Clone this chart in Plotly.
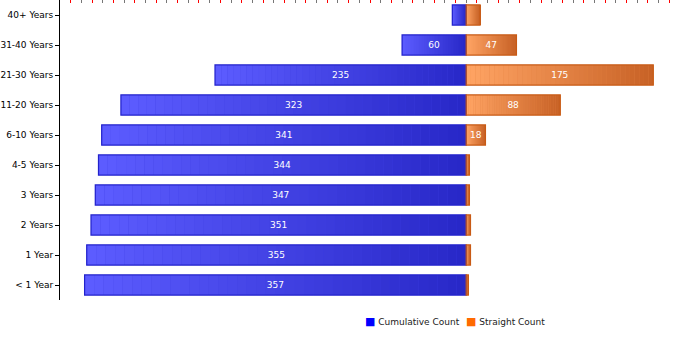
import plotly.graph_objects as go

categories = ["40+ Years", "31-40 Years", "21-30 Years", "11-20 Years", "6-10 Years",
              "4-5 Years", "3 Years", "2 Years", "1 Year", "< 1 Year"]
cumulative = [13, 60, 235, 323, 341, 344, 347, 351, 355, 357]
straight = [13, 47, 175, 88, 18, 3, 3, 4, 4, 2]
series_names = ["Cumulative Count", "Straight Count"]

N = 40
BAR_W = 0.67
FONT = "DejaVu Sans"


def lerp(c1, c2, t):
    return "rgb(%d,%d,%d)" % tuple(round(a + (b - a) * t) for a, b in zip(c1, c2))


blue_light, blue_dark = (92, 92, 255), (40, 40, 200)
orange_light, orange_dark = (255, 164, 100), (200, 98, 38)

fig = go.Figure()

# base solid bars
fig.add_trace(go.Bar(y=categories, x=[-v for v in cumulative], orientation="h", width=BAR_W,
                     marker=dict(color=lerp(blue_light, blue_dark, 0.5), line=dict(width=0)),
                     showlegend=False, hoverinfo="skip"))
fig.add_trace(go.Bar(y=categories, x=straight, orientation="h", width=BAR_W,
                     marker=dict(color=lerp(orange_light, orange_dark, 0.5), line=dict(width=0)),
                     showlegend=False, hoverinfo="skip"))

# gradient segments
for k in range(N):
    t = k / (N - 1)
    fig.add_trace(go.Bar(y=categories, x=[v / N for v in cumulative],
                         base=[-v * (1 - k / N) for v in cumulative], orientation="h", width=BAR_W,
                         marker=dict(color=lerp(blue_light, blue_dark, t), line=dict(width=0)),
                         showlegend=False, hoverinfo="skip"))
    fig.add_trace(go.Bar(y=categories, x=[v / N for v in straight],
                         base=[v * k / N for v in straight], orientation="h", width=BAR_W,
                         marker=dict(color=lerp(orange_light, orange_dark, t), line=dict(width=0)),
                         showlegend=False, hoverinfo="skip"))

# outlines + labels
fig.add_trace(go.Bar(y=categories, x=[-v for v in cumulative], orientation="h", width=BAR_W,
                     name=series_names[0],
                     marker=dict(color="rgba(0,0,0,0)", line=dict(color="#2222cc", width=1.2)),
                     text=[str(v) if v >= 30 else "" for v in cumulative],
                     textposition="inside", insidetextanchor="middle",
                     textfont=dict(color="white", size=9, family=FONT),
                     showlegend=False))
fig.add_trace(go.Bar(y=categories, x=straight, orientation="h", width=BAR_W,
                     name=series_names[1],
                     marker=dict(color="rgba(0,0,0,0)", line=dict(color="#c85a14", width=1.2)),
                     text=[str(v) if v >= 15 else "" for v in straight],
                     textposition="inside", insidetextanchor="middle",
                     textfont=dict(color="white", size=9, family=FONT),
                     showlegend=False))

fig.update_layout(
    width=700, height=350,
    margin=dict(l=60, r=20, t=0, b=50),
    barmode="overlay",
    plot_bgcolor="white", paper_bgcolor="white",
    font=dict(family=FONT, size=9, color="black"),
    showlegend=False,
    uniformtext=dict(minsize=9, mode="show"),
    xaxis=dict(side="top", range=[-380, 200], showline=True, linecolor="black", linewidth=1,
               ticks="inside", ticklen=3, tickcolor="#777777", tick0=0, dtick=20,
               minor=dict(ticks="inside", ticklen=3, tickcolor="red", dtick=10, tick0=0),
               showticklabels=False, showgrid=False, zeroline=False, fixedrange=True),
    yaxis=dict(categoryorder="array", categoryarray=categories[::-1], autorange=False,
               range=[-0.5, len(categories) - 0.5],
               showline=True, linecolor="black", linewidth=1, ticks="outside", ticklen=4,
               tickcolor="black", showgrid=False, zeroline=False,
               tickfont=dict(size=9, family=FONT, color="black"), fixedrange=True),
)

legend_colors = ["#0000ff", "#ff6a00"]
legend_x = [0.489, 0.652]
for name, col, lx in zip(series_names, legend_colors, legend_x):
    fig.add_annotation(xref="paper", yref="paper", x=lx, y=-0.073, xanchor="left", yanchor="middle",
                       showarrow=False,
                       text='<span style="color:%s;font-size:11px">■</span> %s' % (col, name),
                       font=dict(size=9, family=FONT, color="#222222"))

fig.write_html("out.html")
